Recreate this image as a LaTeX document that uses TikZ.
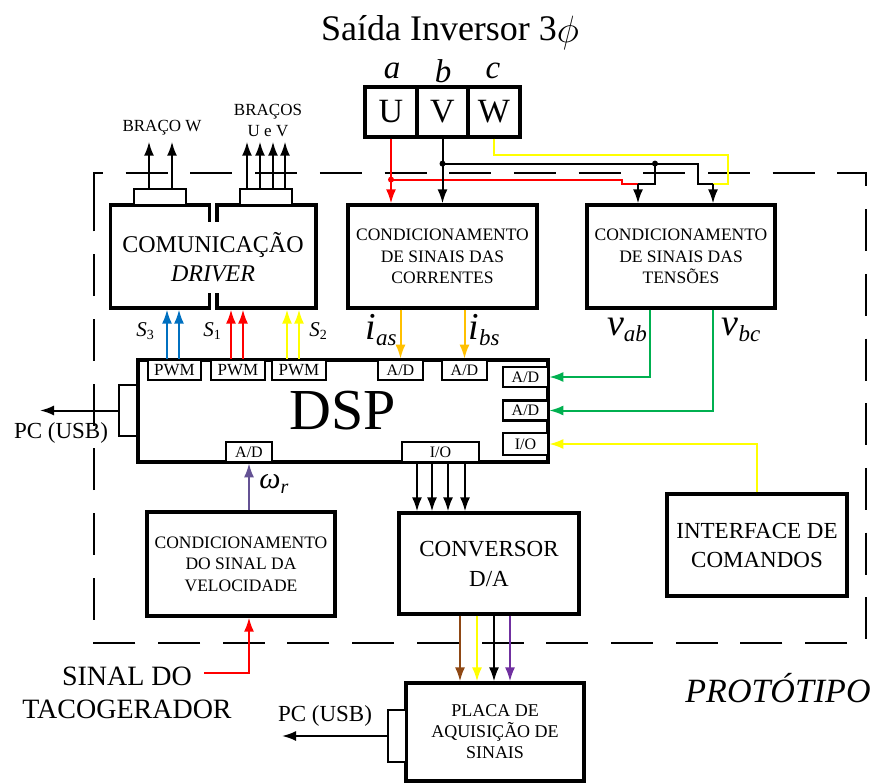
\documentclass[tikz,border=0pt]{standalone}
\usepackage{fontspec}
\setmainfont{Liberation Serif}
\usepackage{graphicx}
\usepackage{tikz}
\usetikzlibrary{arrows.meta, positioning, calc}
\definecolor{sigred}{RGB}{255, 0, 0}
\definecolor{sigyellow}{RGB}{255, 255, 0}
\definecolor{sigblue}{RGB}{0, 112, 192}
\definecolor{sigorange}{RGB}{255, 192, 0}
\definecolor{siggreen}{RGB}{0, 176, 80}
\definecolor{sigviolet}{RGB}{100, 82, 148}
\definecolor{sigbrown}{RGB}{143, 72, 20}
\definecolor{sigpurple}{RGB}{112, 48, 160}
\newcommand{\fsz}[2]{\fontsize{#1pt}{#2pt}\selectfont}
\newcommand{\varlbl}[4]{\fontsize{#3pt}{#3pt}\selectfont\textit{#1}\raisebox{-0.35ex}{\fontsize{#4pt}{#4pt}\selectfont #2}}

\begin{document}
\begin{tikzpicture}[x=1pt, y=-1pt,
    blk/.style={rectangle, draw, line width=3.2pt, inner sep=0pt, align=center, font=\fsz{17.5}{21.5}},
    port/.style={rectangle, draw, fill=white, line width=2.6pt, inner sep=0pt, minimum height=20pt, font=\fsz{16}{16}},
    arr/.style={-{Latex[length=14pt, width=10pt]}, line width=2pt},
    wire/.style={line width=2pt}
]
\useasboundingbox (0,0) rectangle (877,783);

% prototype frame
\draw[line width=2.6pt, dash pattern=on 42pt off 22.7pt] (94,206) -- (94,173) -- (866,173) -- (866,643) -- (94,643) -- cycle;
\node[font=\fsz{34}{34}\itshape] (proto) at (778,688) {PROTÓTIPO};

% inverter output
\node[font=\fsz{36}{36}] (title) at (450,33) {Saída Inversor 3\raisebox{-2pt}{\fsz{18}{18}\scalebox{2.2}{$\phi$}}};
\node[font=\fsz{33}{33}\itshape] (pa) at (392,71) {a};
\node[font=\fsz{33}{33}\itshape] (pb) at (443,71) {b};
\node[font=\fsz{33}{33}\itshape] (pc) at (493,71) {c};
\node[blk, minimum width=52pt, minimum height=50pt, font=\fsz{34}{34}] (U) at (391,112) {U};
\node[blk, minimum width=51pt, minimum height=50pt, font=\fsz{34}{34}] (V) at (442.5,112) {V};
\node[blk, minimum width=52pt, minimum height=50pt, font=\fsz{34}{34}] (W) at (494,112) {W};

% driver
\node[blk, minimum width=99pt, minimum height=103pt] (drvL) at (160,256.5) {};
\node[blk, minimum width=99pt, minimum height=103pt] (drvR) at (266.5,256.5) {};
\node[fill=white, inner sep=0pt, minimum height=71pt, font=\fsz{24}{29}, align=center] (drvtxt) at (213,257.5) {COMUNICAÇÃO\\\textit{DRIVER}};
\node[port, minimum width=52pt, minimum height=16pt] (cnW) at (160,197) {};
\node[port, minimum width=52pt, minimum height=16pt] (cnUV) at (266,197) {};
\foreach \dx in {-11,12} \draw[arr] ([xshift=\dx pt]cnW.north) -- ++(0,-46);
\foreach \dx in {-19,-6,7,19} \draw[arr] ([xshift=\dx pt]cnUV.north) -- ++(0,-46);
\node[font=\fsz{17}{21}] (lblW) at (162,128) {BRAÇO W};
\node[font=\fsz{17}{21}, align=center] (lblUV) at (268,121) {BRAÇOS\\U e V};

% conditioning boxes
\node[blk, minimum width=189pt, minimum height=103pt] (corr) at (442.5,256.5) {CONDICIONAMENTO\\DE SINAIS DAS\\CORRENTES};
\node[blk, minimum width=188pt, minimum height=103pt] (tens) at (681,256.5) {CONDICIONAMENTO\\DE SINAIS DAS\\TENSÕES};

% DSP and its ports
\node[blk, minimum width=410pt, minimum height=102pt, font=\fsz{58}{58}] (dsp) at (343,411) {DSP};
\node[port, minimum width=53pt, font=\fsz{17}{17}] (pwm3) at (174.5,370) {PWM};
\node[port, minimum width=54pt, font=\fsz{17}{17}] (pwm1) at (238,370) {PWM};
\node[port, minimum width=54pt, font=\fsz{17}{17}] (pwm2) at (299,370) {PWM};
\node[port, minimum width=45pt] (adIa) at (400.5,370) {A/D};
\node[port, minimum width=45pt] (adIb) at (464.5,370) {A/D};
\node[port, minimum width=45pt] (adVab) at (525.5,377) {A/D};
\node[port, minimum width=45pt] (adVbc) at (525.5,410.5) {A/D};
\node[port, minimum width=45pt, minimum height=22pt] (ioCmd) at (525.5,444) {I/O};
\node[port, minimum width=46pt] (adW) at (249,452) {A/D};
\node[port, minimum width=77pt] (ioDA) at (440.5,452) {I/O};
\node[port, minimum width=18pt, minimum height=51pt] (usbD) at (128,410.5) {};
\coordinate (pcD) at (40,410.5);
\draw[arr] (usbD.west) -- (pcD);
\node[font=\fsz{23}{23}] (pcDlbl) at (61,433) {PC (USB)};

% gate signals
\foreach \dx in {-7.5,4.5} \draw[arr, sigblue] ([xshift=\dx pt]pwm3.north) -- ([xshift=\dx pt]pwm3.north |- drvL.south);
\foreach \dx in {-7,5} \draw[arr, sigred] ([xshift=\dx pt]pwm1.north) -- ([xshift=\dx pt]pwm1.north |- drvR.south);
\foreach \dx in {-12,0} \draw[arr, sigyellow] ([xshift=\dx pt]pwm2.north) -- ([xshift=\dx pt]pwm2.north |- drvR.south);
\node (lblS3) at (145,331) {\varlbl{S}{3}{21}{14}};
\node (lblS1) at (212,331) {\varlbl{S}{1}{21}{14}};
\node (lblS2) at (318,331) {\varlbl{S}{2}{21}{14}};

% currents and voltages
\draw[arr, sigorange] (corr.south -| adIa.north) -- (adIa.north);
\draw[arr, sigorange] (corr.south -| adIb.north) -- (adIb.north);
\node (lblia) at (381,330) {\varlbl{i}{\textit{as}}{38}{23}};
\node (lblib) at (484,330) {\varlbl{i}{\textit{bs}}{38}{23}};
\draw[arr, siggreen] ([xshift=-31pt]tens.south) |- (adVab.east);
\draw[arr, siggreen] ([xshift=32pt]tens.south) |- (adVbc.east);
\node (lblvab) at (627,330) {\varlbl{v}{\textit{ab}}{38}{23}};
\node (lblvbc) at (741,330) {\varlbl{v}{\textit{bc}}{38}{23}};

% phase wiring
\coordinate (jU) at ([yshift=-41pt]U.south);
\coordinate (jV) at ([yshift=-25pt]V.south);
\coordinate (tabIn) at ([xshift=-43pt]tens.north);
\coordinate (tbcIn) at ([xshift=32pt]tens.north);
\coordinate (tabTop) at ([yshift=19pt]tabIn);
\coordinate (tbcTop) at ([yshift=19pt]tbcIn);
\coordinate (jT) at ([xshift=17pt]tabTop |- jV);
\draw[wire, sigyellow] (W.south) -- ++(0,16) -| ([xshift=15pt]tbcTop) -- (tbcTop);
\draw[wire, sigred] (jU) -| ([xshift=-16pt]tabTop) -- (tabTop);
\draw[arr, sigred] (U.south) -- (U.south |- corr.north);
\fill[sigred] (jU) circle (3pt);
\draw[wire] (jV) -| ([xshift=-15pt]tbcTop) -- (tbcTop);
\draw[wire] (jT) |- (tabTop);
\draw[arr] (V.south) -- (V.south |- corr.north);
\draw[arr] (tabTop) -- (tabIn);
\draw[arr] (tbcTop) -- (tbcIn);
\fill (jV) circle (3pt);
\fill (jT) circle (3pt);

% lower blocks
\node[blk, minimum width=180pt, minimum height=102pt, font=\fsz{23}{29}] (iface) at (757,545) {INTERFACE DE\\COMANDOS};
\draw[arr, sigyellow] (iface.north) |- (ioCmd.east);
\node[blk, minimum width=180pt, minimum height=101pt, font=\fsz{23}{30}] (conv) at (489,563.5) {CONVERSOR\\D/A};
\foreach \dx in {-23.5,-8.5,7.5,24.5} \draw[arr] ([xshift=\dx pt]ioDA.south) -- ([xshift=\dx pt]ioDA.south |- conv.north);
\node[blk, minimum width=188pt, minimum height=104pt] (vel) at (241,564) {CONDICIONAMENTO\\DO SINAL DA\\VELOCIDADE};
\draw[arr, sigviolet] (adW.south |- vel.north) -- (adW.south);
\node (lblw) at (274,484) {\varlbl{ω}{\textit{r}}{30}{20}};
\node[font=\fsz{28}{33}, align=center] (tacho) at (127,693) {SINAL DO\\TACOGERADOR};
\coordinate (tachoin) at (204,673);
\draw[arr, sigred] (tachoin) -| (adW.south |- vel.south);

% acquisition board
\node[blk, minimum width=178pt, minimum height=98pt, font=\fsz{18}{21}] (placa) at (495,732) {PLACA DE\\AQUISIÇÃO DE\\SINAIS};
\foreach \dx/\col in {-29/sigbrown, -12/sigyellow, 5/black, 21/sigpurple}
  \draw[arr, \col] ([xshift=\dx pt]conv.south) -- ([xshift=\dx pt]conv.south |- placa.north);
\node[port, minimum width=18pt, minimum height=52pt] (usbP) at (397,736) {};
\coordinate (pcP) at (282,736);
\draw[arr] (usbP.west) -- (pcP);
\node[font=\fsz{23}{23}] (pcPlbl) at (325,716) {PC (USB)};

\end{tikzpicture}
\end{document}
